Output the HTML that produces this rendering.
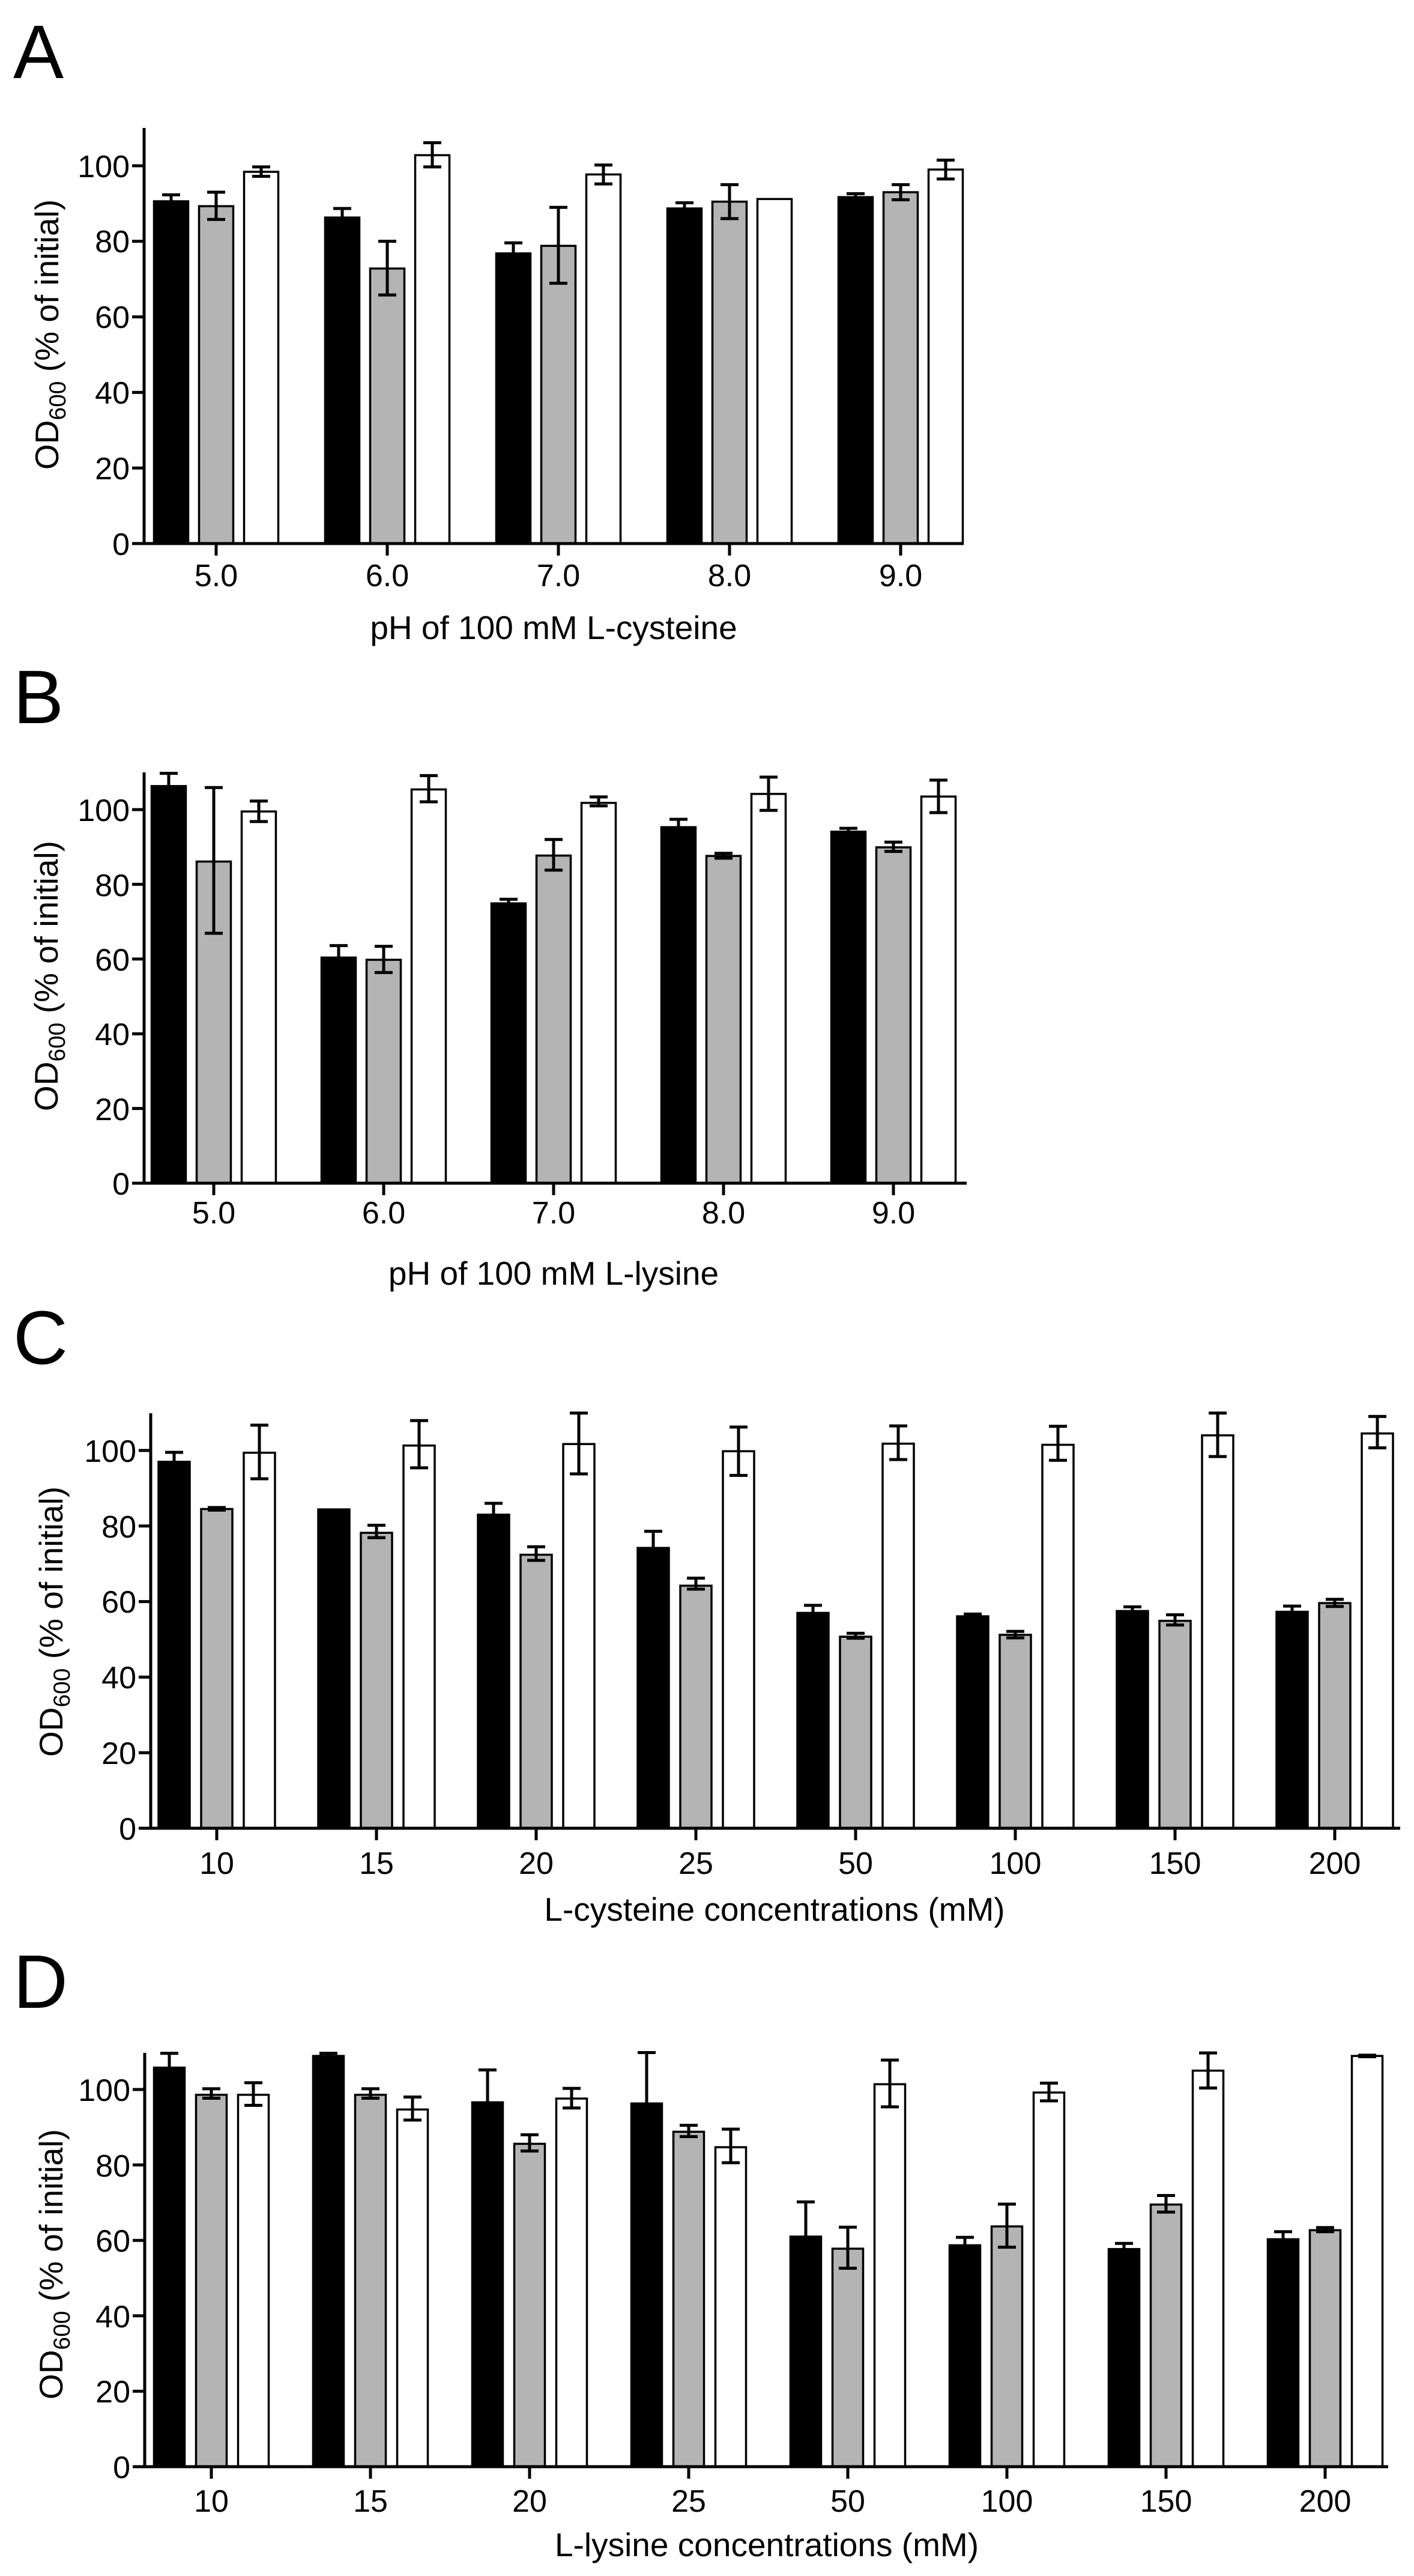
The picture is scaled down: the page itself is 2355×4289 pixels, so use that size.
<!DOCTYPE html>
<html><head><meta charset="utf-8">
<style>
html,body{margin:0;padding:0;background:#fff;}
svg{display:block;}
text{font-family:"Liberation Sans",Arial,sans-serif;fill:#000;}
.t{font-size:52px;}
.yl{font-size:55px;}
.xl{font-size:55px;}
.L{font-size:126px;}
</style></head>
<body>
<svg id="s" width="2355" height="4289" viewBox="0 0 2355 4289" xmlns="http://www.w3.org/2000/svg">
<g id="g"></g>
<!-- Panel letters -->
<text class="L" x="22" y="130">A</text>
<text class="L" x="22" y="1204">B</text>
<text class="L" x="22" y="2271">C</text>
<text class="L" x="22" y="3343">D</text>

<!-- Panel A text -->
<g class="t" text-anchor="end">
<text x="216" y="924">0</text><text x="216" y="798">20</text><text x="216" y="672">40</text><text x="216" y="546">60</text><text x="216" y="420">80</text><text x="216" y="295">100</text>
</g>
<g class="t" text-anchor="middle">
<text x="360" y="976">5.0</text><text x="645" y="976">6.0</text><text x="930" y="976">7.0</text><text x="1215" y="976">8.0</text><text x="1500" y="976">9.0</text>
</g>
<text class="xl" x="922" y="1064" text-anchor="middle">pH of 100 mM L-cysteine</text>
<text class="yl" transform="translate(97,557) rotate(-90)" text-anchor="middle">OD<tspan font-size="39" dy="12">600</tspan><tspan dy="-12"> (% of initial)</tspan></text>

<!-- Panel B text -->
<g class="t" text-anchor="end">
<text x="216" y="1989">0</text><text x="216" y="1865">20</text><text x="216" y="1740">40</text><text x="216" y="1616">60</text><text x="216" y="1492">80</text><text x="216" y="1367">100</text>
</g>
<g class="t" text-anchor="middle">
<text x="356" y="2037">5.0</text><text x="639" y="2037">6.0</text><text x="922" y="2037">7.0</text><text x="1205" y="2037">8.0</text><text x="1488" y="2037">9.0</text>
</g>
<text class="xl" x="922" y="2139" text-anchor="middle">pH of 100 mM L-lysine</text>
<text class="yl" transform="translate(96,1625) rotate(-90)" text-anchor="middle">OD<tspan font-size="39" dy="12">600</tspan><tspan dy="-12"> (% of initial)</tspan></text>

<!-- Panel C text -->
<g class="t" text-anchor="end">
<text x="227" y="3063">0</text><text x="227" y="2937">20</text><text x="227" y="2811">40</text><text x="227" y="2685">60</text><text x="227" y="2560">80</text><text x="227" y="2434">100</text>
</g>
<g class="t" text-anchor="middle">
<text x="361" y="3120">10</text><text x="627" y="3120">15</text><text x="893" y="3120">20</text><text x="1159" y="3120">25</text><text x="1425" y="3120">50</text><text x="1691" y="3120">100</text><text x="1957" y="3120">150</text><text x="2223" y="3120">200</text>
</g>
<text class="xl" x="1290" y="3198" text-anchor="middle">L-cysteine concentrations (mM)</text>
<text class="yl" transform="translate(104,2700) rotate(-90)" text-anchor="middle">OD<tspan font-size="39" dy="12">600</tspan><tspan dy="-12"> (% of initial)</tspan></text>

<!-- Panel D text -->
<g class="t" text-anchor="end">
<text x="217" y="4126">0</text><text x="217" y="4000">20</text><text x="217" y="3875">40</text><text x="217" y="3749">60</text><text x="217" y="3624">80</text><text x="217" y="3498">100</text>
</g>
<g class="t" text-anchor="middle">
<text x="352" y="4182">10</text><text x="617" y="4182">15</text><text x="882" y="4182">20</text><text x="1147" y="4182">25</text><text x="1412" y="4182">50</text><text x="1677" y="4182">100</text><text x="1942" y="4182">150</text><text x="2207" y="4182">200</text>
</g>
<text class="xl" x="1277" y="4256" text-anchor="middle">L-lysine concentrations (mM)</text>
<text class="yl" transform="translate(104,3770) rotate(-90)" text-anchor="middle">OD<tspan font-size="39" dy="12">600</tspan><tspan dy="-12"> (% of initial)</tspan></text>
</svg>
<script>
(function(){
var NS="http://www.w3.org/2000/svg",g=document.getElementById("g");
function el(n,a){var e=document.createElementNS(NS,n);for(var k in a)e.setAttribute(k,a[k]);g.appendChild(e);return e;}
function line(x1,y1,x2,y2,w){el("line",{x1:x1,y1:y1,x2:x2,y2:y2,stroke:"#000","stroke-width":w});}
var fills=["#000","#b4b4b4","#fff"];
function panel(p){
  var Y=function(v){return p.base-v*p.ppu;};
  // bars
  for(var i=0;i<p.data.length;i++){
    var c=p.c0+i*p.sp;
    for(var j=0;j<3;j++){
      var d=p.data[i][j],x=c+(j-1)*p.pitch-p.w/2,yt=Y(d[0]);
      el("rect",{x:x+1.5,y:yt,width:p.w-3,height:p.base-yt,fill:fills[j],stroke:"#000","stroke-width":3.5});
      var bx=c+(j-1)*p.pitch;
      if(d[1]!=null){
        var y1=Y(d[1]),y2=Y(d[2]);
        line(bx,y1,bx,y2,5);
        line(bx-15,y1,bx+15,y1,5);
        if(j>0) line(bx-15,y2,bx+15,y2,5);
      }
    }
  }
  // axes
  line(p.x0,p.top,p.x0,p.base+2.5,5);
  line(p.x0-20,p.base,p.xend,p.base,5);
  for(var t=20;t<=100;t+=20) line(p.x0-20,Y(t),p.x0,Y(t),5);
  for(var i=0;i<p.data.length;i++){var c=p.c0+i*p.sp;line(c,p.base,c,p.base+20,5);}
}
panel({x0:240,base:905,ppu:6.29,top:213,xend:1605,c0:360,sp:285,w:60,pitch:75,data:[
 [[90.6,92.3,88.9],[89.3,93.0,85.8],[98.4,99.7,97.2]],
 [[86.3,88.7,84],[72.8,80.0,65.8],[102.8,106.1,99.7]],
 [[76.8,79.6,74],[78.8,89.0,68.9],[97.7,100.2,95.2]],
 [[88.7,90.2,87],[90.5,95.0,86.0],[91.2,null,null]],
 [[91.7,92.6,90.8],[93.0,95.0,91.0],[99.0,101.5,96.5]]]});
panel({x0:240,base:1970,ppu:6.22,top:1286,xend:1610,c0:356,sp:283,w:60,pitch:75,data:[
 [[106.3,109.7,103],[86.1,105.9,66.9],[99.5,102.3,96.8]],
 [[60.4,63.6,57],[59.8,63.4,56.4],[105.4,109.1,102.1]],
 [[74.9,76.0,73.8],[87.7,92.0,83.8],[101.8,103.4,101.0]],
 [[95.3,97.4,93],[87.6,88.3,87.0],[104.2,108.7,99.8]],
 [[94.1,95.0,93],[89.9,91.3,88.8],[103.5,107.9,99.2]]]});
panel({x0:251,base:3044,ppu:6.29,top:2353,xend:2332,c0:361,sp:266,w:55,pitch:71,data:[
 [[97.0,99.5,95],[84.5,84.9,84.2],[99.4,106.7,92.5]],
 [[84.4,null,null],[78.2,80.2,76.9],[101.3,107.9,95.4]],
 [[83.0,86.0,80],[72.4,74.5,70.9],[101.7,109.9,93.8]],
 [[74.2,78.6,70],[64.2,66.2,63.3],[99.8,106.2,93.4]],
 [[57.0,59.0,55],[50.7,51.6,50.3],[101.8,106.5,97.6]],
 [[56.1,56.7,55.5],[51.2,52.1,50.4],[101.5,106.4,97.4]],
 [[57.5,58.6,56.4],[54.9,56.5,53.8],[104.0,109.9,98.4]],
 [[57.3,58.8,56],[59.6,60.6,58.7],[104.5,109.0,100.7]]]});
panel({x0:241,base:4107,ppu:6.28,top:3418,xend:2312,c0:352,sp:265,w:54,pitch:70,data:[
 [[105.8,109.6,102],[98.6,100.2,97.7],[98.6,101.8,95.8]],
 [[108.9,109.6,108],[98.6,100.2,97.7],[94.7,98.0,91.9]],
 [[96.6,105.2,88],[85.6,88.0,83.7],[97.6,100.3,95.1]],
 [[96.3,109.8,83],[88.8,90.5,87.5],[84.7,89.5,80.6]],
 [[61.0,70.2,52],[57.8,63.5,52.6],[101.4,107.8,95.4]],
 [[58.7,60.8,56.6],[63.7,69.6,58.2],[99.2,101.7,97.0]],
 [[57.7,59.2,56.2],[69.5,71.9,67.5],[105.0,109.7,100.4]],
 [[60.3,62.3,58.3],[62.7,63.4,62.3],[108.9,109.1,108.7]]]});
})();
</script>
</body></html>
